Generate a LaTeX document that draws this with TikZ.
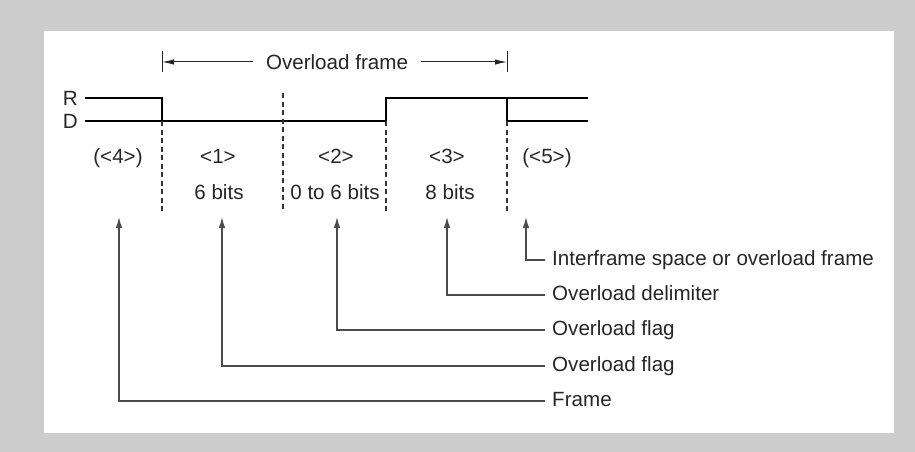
\documentclass[tikz,border=0pt]{standalone}
\usepackage{fontspec}
\setmainfont{Liberation Sans}
\usetikzlibrary{arrows.meta}

\begin{document}
\begin{tikzpicture}[
    x=1pt, y=-1pt,
    % Estilo para todos los textos
    every node/.style={font=\fontsize{20.6}{24}\selectfont, text=black!85},
    % Estilo para la señal del bus (niveles R y D)
    signal/.style={line width=2.6pt, black, line join=miter},
    % Estilo para las divisiones entre campos
    fieldsep/.style={dashed, dash pattern=on 5pt off 3.5pt, line width=1.1pt, black!80},
    % Estilo para las etiquetas de los campos
    fieldlbl/.style={text height=15pt, text depth=4pt, inner sep=0pt},
    % Estilo para las notas de la derecha
    note/.style={anchor=west, text height=11pt, text depth=0pt, inner xsep=7pt, inner ysep=0pt},
    % Estilo para las flechas de las notas
    leader/.style={line width=1.2pt, black!70, -{Latex[length=11pt, width=6.5pt]}},
    % Estilo para la cota del overload frame
    dim/.style={line width=1pt, black!85, -{Latex[length=12pt, width=5.5pt]}}
]

    % ==========================================
    % FONDO
    % ==========================================
    \fill[black!20] (0,0) rectangle (915,452);
    \fill[white] (44,31) rectangle (894,433);

    % ==========================================
    % COTA: OVERLOAD FRAME
    % ==========================================
    \draw[line width=1pt, black!85] (162,51) -- (162,72);
    \draw[line width=1pt, black!85] (507,51) -- (507,72);
    \coordinate (ovlL) at (162,62);
    \coordinate (ovlR) at (507,62);
    \node[inner xsep=13pt] (ovl) at (337,62) {Overload frame};
    \draw[dim] (ovl.west) -- (ovlL);
    \draw[dim] (ovl.east) -- (ovlR);

    % ==========================================
    % SEÑAL
    % ==========================================
    \node[anchor=east, inner sep=0pt] (lvlR) at (78,98) {R};
    \node[anchor=east, inner sep=0pt] (lvlD) at (78,121) {D};

    \draw[signal] (85,98) -- (162,98) -- (162,121);
    \draw[signal] (85,121) -- (386,121) -- (386,98) -- (588,98);
    \draw[signal] (507,98) -- (507,121) -- (588,121);

    % Divisiones de los campos
    \draw[fieldsep] (162,121) -- (162,212);
    \draw[fieldsep] (283,93)  -- (283,212);
    \draw[fieldsep] (386,121) -- (386,212);
    \draw[fieldsep] (507,121) -- (507,212);

    % Etiquetas de los campos
    \node[fieldlbl] (f4) at (118,157.5) {(<4>)};
    \node[fieldlbl] (f1) at (218,157.5) {<1>};
    \node[fieldlbl] (f2) at (336,157.5) {<2>};
    \node[fieldlbl] (f3) at (447,157.5) {<3>};
    \node[fieldlbl] (f5) at (547,157.5) {(<5>)};

    \node[fieldlbl] (b1) at (219,193.5) {6 bits};
    \node[fieldlbl] (b2) at (335,193.5) {0 to 6 bits};
    \node[fieldlbl] (b3) at (450,193.5) {8 bits};

    % ==========================================
    % NOTAS
    % ==========================================
    \coordinate (t4) at (119,217);
    \coordinate (t1) at (222,217);
    \coordinate (t2) at (337,217);
    \coordinate (t3) at (447,217);
    \coordinate (t5) at (526,217);

    \node[note] (nIfs)   at (545,260) {Interframe space or overload frame};
    \node[note] (nDelim) at (545,295) {Overload delimiter};
    \node[note] (nFlagB) at (545,330) {Overload flag};
    \node[note] (nFlagA) at (545,366) {Overload flag};
    \node[note] (nFrame) at (545,401) {Frame};

    \draw[leader] (nIfs.west)   -| (t5);
    \draw[leader] (nDelim.west) -| (t3);
    \draw[leader] (nFlagB.west) -| (t2);
    \draw[leader] (nFlagA.west) -| (t1);
    \draw[leader] (nFrame.west) -| (t4);

\end{tikzpicture}
\end{document}
